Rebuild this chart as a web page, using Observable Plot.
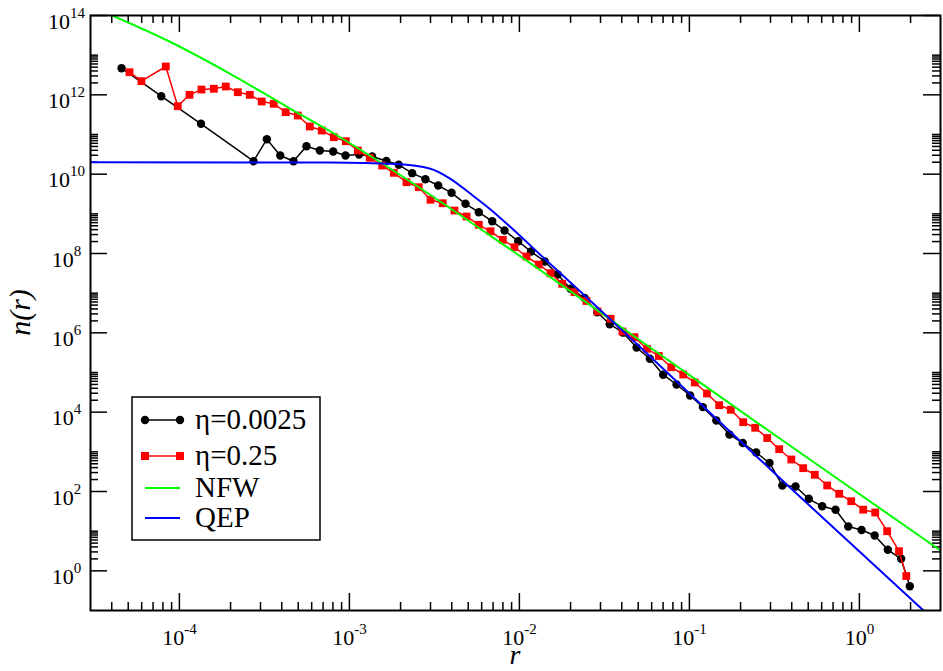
<!DOCTYPE html>
<html><head><meta charset="utf-8">
<script src="https://cdn.jsdelivr.net/npm/d3@7"></script>
<script src="https://cdn.jsdelivr.net/npm/@observablehq/plot@0.6"></script>
<style>body{margin:0;background:#fff}</style>
</head><body><div id="chart"></div>
<script>
// ---- data ----
const eta0025R = [4.57e-5, 7.82e-5, 1.34e-4, 2.73e-4, 3.27e-4, 3.92e-4, 4.69e-4, 5.59e-4, 6.70e-4, 8.03e-4, 9.49e-4, 1.14e-3, 1.36e-3, 1.65e-3, 1.95e-3, 2.34e-3, 2.80e-3, 3.33e-3, 3.99e-3, 4.82e-3, 5.77e-3, 6.92e-3, 8.18e-3, 9.84e-3, 1.17e-2, 1.41e-2, 1.68e-2, 2.00e-2, 2.42e-2, 2.87e-2, 3.40e-2, 4.08e-2, 4.89e-2, 5.85e-2, 7.01e-2, 8.40e-2, 0.101, 0.120, 0.144, 0.172, 0.206, 0.247, 0.296, 0.352, 0.421, 0.504, 0.604, 0.724, 0.860, 1.03, 1.23, 1.47, 1.76, 1.98];
const eta0025N = [4.69e12, 9.24e11, 1.86e11, 2.12e10, 7.61e10, 2.96e10, 2.12e10, 5.07e10, 3.95e10, 3.73e10, 2.96e10, 3.13e10, 2.79e10, 2.15e10, 1.72e10, 1.06e10, 7.47e9, 5.18e9, 3.39e9, 1.79e9, 1.10e9, 6.48e8, 3.80e8, 2.04e8, 1.12e8, 6.29e7, 2.96e7, 1.29e7, 7.55e6, 3.31e6, 1.65e6, 1.01e6, 4.27e5, 2.22e5, 8.80e4, 4.98e4, 2.63e4, 1.34e4, 6.17e3, 2.74e3, 1.67e3, 962, 524, 142, 134, 65.5, 42.4, 34.6, 13.1, 10.7, 7.78, 3.39, 2.01, 0.41];

const eta025R = [5.09e-5, 5.98e-5, 8.32e-5, 9.78e-5, 1.147e-4, 1.349e-4, 1.594e-4, 1.875e-4, 2.206e-4, 2.596e-4, 3.05e-4, 3.59e-4, 4.22e-4, 4.97e-4, 5.85e-4, 6.88e-4, 8.10e-4, 9.53e-4, 1.121e-3, 1.318e-3, 1.56e-3, 1.825e-3, 2.167e-3, 2.56e-3, 3.0e-3, 3.54e-3, 4.15e-3, 4.89e-3, 5.77e-3, 6.76e-3, 7.99e-3, 9.36e-3, 1.101e-2, 1.30e-2, 1.524e-2, 1.786e-2, 2.11e-2, 2.48e-2, 2.88e-2, 3.44e-2, 4.04e-2, 4.75e-2, 5.63e-2, 6.61e-2, 7.82e-2, 9.20e-2, 0.1076, 0.1269, 0.1497, 0.1752, 0.2073, 0.2438, 0.2869, 0.3375, 0.3977, 0.4671, 0.5467, 0.6465, 0.7606, 0.895, 1.053, 1.239, 1.457, 1.71, 1.888];
const eta025N = [3.72e12, 2.21e12, 5.18e12, 5.17e11, 1.0e12, 1.36e12, 1.42e12, 1.62e12, 1.165e12, 1.0e12, 6.79e11, 5.94e11, 3.65e11, 3.01e11, 1.59e11, 1.26e11, 8.55e10, 6.78e10, 3.95e10, 2.59e10, 1.65e10, 1.08e10, 6.28e9, 4.69e9, 2.26e9, 1.85e9, 1.21e9, 8.57e8, 5.29e8, 3.63e8, 2.21e8, 1.44e8, 8.40e7, 5.28e7, 3.19e7, 1.72e7, 1.06e7, 6.35e6, 3.45e6, 2.26e6, 1.08e6, 7.76e5, 3.96e5, 2.61e5, 1.36e5, 8.90e4, 5.60e4, 2.96e4, 1.50e4, 1.15e4, 5.59e3, 4.04e3, 2.23e3, 1.165e3, 641, 387, 264, 142, 87.5, 56.9, 34.8, 29.6, 9.98, 3.13, 0.741];

const nfwR = [4.02e-5, 8.86e-5, 2.0e-4, 4.50e-4, 7.74e-4, 1.745e-3, 8.86e-3, 6.17e-2, 0.3934, 3.0];
const nfwN = [1e14, 2.15e13, 3.35e12, 4.45e11, 1.19e11, 1.37e10, 1.26e8, 3.69e5, 1.40e3, 3.25];

const qepR = [3.0e-5, 7.74e-4, 1.91e-3, 3.0e-3, 3.93e-3, 5.16e-3, 6.76e-3, 8.86e-3, 1.391e-2, 2.87e-2, 5.16e-2, 0.3435, 2.383];
const qepN = [2.0e10, 1.97e10, 1.80e10, 1.37e10, 7.64e9, 3.20e9, 1.29e9, 4.66e8, 7.70e7, 4.43e6, 4.27e5, 209, 0.1];

const seriesNames = ["\u03b7=0.0025", "\u03b7=0.25", "NFW", "QEP"];
const xTickExponents = [-4, -3, -2, -1, 0];
const yTickExponents = [0, 2, 4, 6, 8, 10, 12, 14];
const xDomain = [3e-5, 3];
const yDomain = [0.1, 1e14];

// ---- tables ----
const zip = (R, N) => R.map((r, i) => ({r, n: N[i]}));
const black = zip(eta0025R, eta0025N);
const red = zip(eta025R, eta025N);
const nfw = zip(nfwR, nfwN);
const qep = zip(qepR, qepN);

const xMajor = xTickExponents.map(e => 10 ** e);
const xMinor = [];
for (let e = -5; e <= 0; e++) for (let k = 2; k <= 9; k++) { const v = k * 10 ** e; if (v > xDomain[0] * 1.01 && v < xDomain[1] * 0.99) xMinor.push(v); }
const yMajor = yTickExponents.map(e => 10 ** e);
const yMinor = [];
for (const e of yTickExponents) for (let k = 2; k <= 10; k++) { const v = k * 10 ** e; if (v < yDomain[1] * 0.99) yMinor.push(v); }

const W = 943, H = 671, mL = 90, mR = 3, mT = 15, mB = 61;
const pW = W - mL - mR, pH = H - mT - mB;
const font = "Liberation Serif, Times New Roman, serif";

const chart = Plot.plot({
  width: W, height: H,
  marginLeft: mL, marginRight: mR, marginTop: mT, marginBottom: mB,
  style: {fontFamily: font, background: "white", overflow: "visible"},
  x: {type: "log", domain: xDomain, axis: null},
  y: {type: "log", domain: yDomain, axis: null},
  marks: [
    // ticks (inward)
    Plot.tickX(xMajor, {x: d => d, insetTop: pH - 17, stroke: "black", strokeWidth: 1.5}),
    Plot.tickX(xMajor, {x: d => d, insetBottom: pH - 17, stroke: "black", strokeWidth: 1.5}),
    Plot.tickX(xMinor, {x: d => d, insetTop: pH - 8, stroke: "black", strokeWidth: 1.5}),
    Plot.tickX(xMinor, {x: d => d, insetBottom: pH - 8, stroke: "black", strokeWidth: 1.5}),
    Plot.tickY(yMajor, {y: d => d, insetRight: pW - 17, stroke: "black", strokeWidth: 1.5}),
    Plot.tickY(yMajor, {y: d => d, insetLeft: pW - 17, stroke: "black", strokeWidth: 1.5}),
    Plot.tickY(yMinor, {y: d => d, insetRight: pW - 8, stroke: "black", strokeWidth: 1.5}),
    Plot.tickY(yMinor, {y: d => d, insetLeft: pW - 8, stroke: "black", strokeWidth: 1.5}),
    // tick labels
    Plot.text(xTickExponents, {x: d => 10 ** d, text: d => "10^" + d, frameAnchor: "bottom", dy: 34, lineAnchor: "bottom", textAnchor: "middle", fontSize: 22, ariaDescription: "xlab"}),
    Plot.text(yTickExponents, {y: d => 10 ** d, text: d => "10^" + d, frameAnchor: "left", dx: -24, dy: 13, lineAnchor: "bottom", textAnchor: "middle", fontSize: 22, ariaDescription: "ylab"}),
    // data series
    Plot.line(black, {x: "r", y: "n", stroke: "black", strokeWidth: 1.5}),
    Plot.dot(black, {x: "r", y: "n", r: 4.2, fill: "black"}),
    Plot.line(red, {x: "r", y: "n", stroke: "#ff0000", strokeWidth: 1.5}),
    Plot.dot(red, {x: "r", y: "n", symbol: "square", r: 4.4, fill: "#ff0000"}),
    Plot.line(nfw, {x: "r", y: "n", stroke: "#00ff00", strokeWidth: 2, curve: "monotone-x", clip: true}),
    Plot.line(qep, {x: "r", y: "n", stroke: "#0000ff", strokeWidth: 2, curve: "monotone-x", clip: true}),
    Plot.frame({stroke: "black", strokeWidth: 2})
  ]
});

const svg = d3.select(chart);
// superscript tick labels
svg.selectAll('g[aria-description="xlab"] text, g[aria-description="ylab"] text').each(function () {
  const t = d3.select(this);
  const [b, e] = this.textContent.split("^");
  t.text(null);
  t.append("tspan").text(b);
  t.append("tspan").attr("dy", -11).attr("font-size", 15).text(e);
});

// axis titles
svg.append("text").attr("x", mL + pW / 2).attr("y", 664).attr("text-anchor", "middle")
  .attr("font-family", font).attr("font-style", "italic").attr("font-size", 28).text("r");
svg.append("text").attr("transform", `translate(30,${mT + pH / 2}) rotate(-90)`).attr("text-anchor", "middle")
  .attr("font-family", font).attr("font-style", "italic").attr("font-size", 30).text("n(r)");

// legend
const lg = svg.append("g");
lg.append("rect").attr("x", 132).attr("y", 397).attr("width", 188).attr("height", 143)
  .attr("fill", "white").attr("stroke", "black").attr("stroke-width", 1.5);
const rowsY = [420, 456, 488, 518];
const styles = [
  {stroke: "black", w: 1.5, sym: "circle"},
  {stroke: "#ff0000", w: 1.5, sym: "square"},
  {stroke: "#00ff00", w: 2, sym: null},
  {stroke: "#0000ff", w: 2, sym: null}
];
seriesNames.forEach((name, i) => {
  const y = rowsY[i], s = styles[i];
  lg.append("line").attr("x1", 145).attr("x2", 180).attr("y1", y).attr("y2", y)
    .attr("stroke", s.stroke).attr("stroke-width", s.w);
  for (const x of [145, 180]) {
    if (s.sym === "circle") lg.append("circle").attr("cx", x).attr("cy", y).attr("r", 4.2).attr("fill", s.stroke);
    if (s.sym === "square") lg.append("rect").attr("x", x - 4).attr("y", y - 4).attr("width", 8).attr("height", 8).attr("fill", s.stroke);
  }
  lg.append("text").attr("x", 195).attr("y", y + 9).attr("text-anchor", "start")
    .attr("font-family", font).attr("font-size", 29).text(name);
});

document.getElementById("chart").append(chart);
</script>
</body></html>
